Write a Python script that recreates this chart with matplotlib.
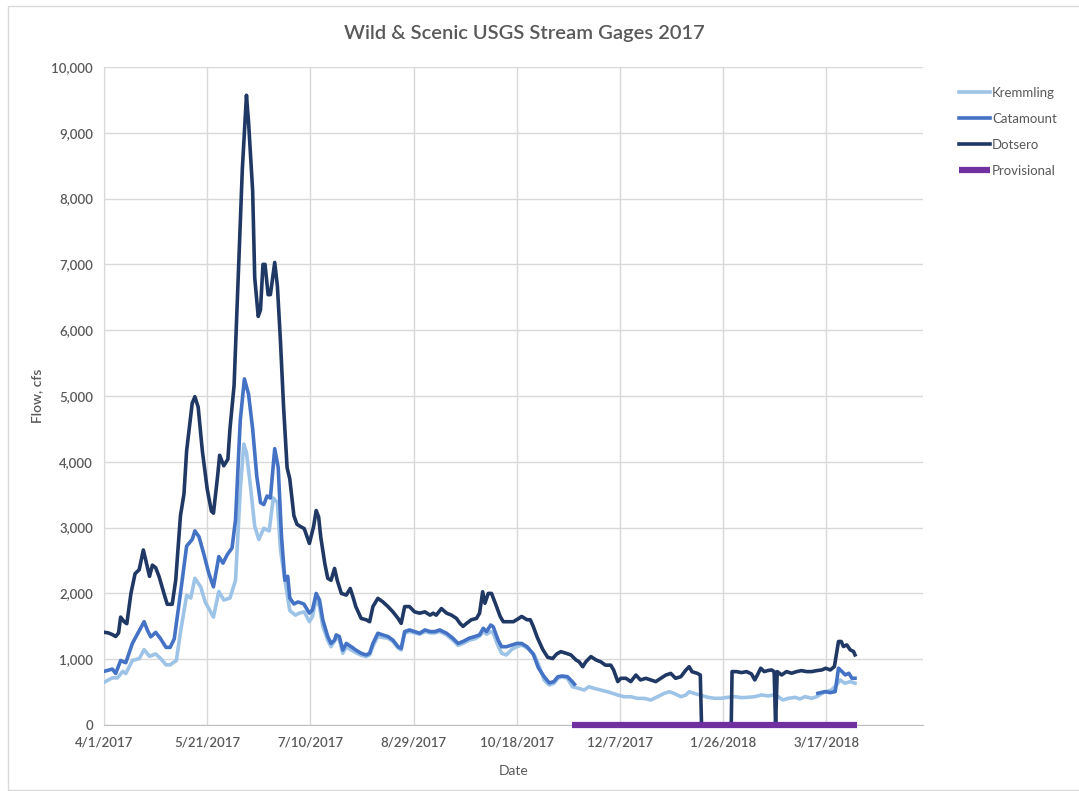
import matplotlib
matplotlib.use("Agg")
import matplotlib.pyplot as plt
import matplotlib.dates as mdates
from matplotlib.patches import Rectangle
from matplotlib.ticker import FuncFormatter, MultipleLocator
import numpy as np
import pandas as pd

plt.rcParams['font.family'] = ['Lato', 'DejaVu Sans']

start = pd.Timestamp("2017-04-01")

# days since 4/1/2017, flow in cfs
kremmling_days = [0, 4, 6.5, 9, 10.5, 13.7, 17, 19.4, 22, 25, 27.4, 30, 32, 35, 37, 40, 42, 44, 46.8, 49,
                  53, 55.6, 58, 61, 63.7, 66, 67.7, 69, 71, 73, 75, 77.4, 80, 82, 84, 85.5, 88, 90, 92.7,
                  94.6, 97, 99.5, 101, 102.8, 104.4, 106, 108.4, 110, 112.5, 114, 115.7, 117.4, 119.8,
                  122, 124.6, 127, 128.7, 130.3, 132.7, 135, 137.6, 140, 142.5, 144, 145.7, 148, 150.5,
                  153, 155.5, 158, 160.3, 162.7, 166, 169, 171.6, 174, 177, 179.7, 182, 183.8, 185.4,
                  187.4, 188.6, 191, 192.7, 195, 197.6, 200, 202.4, 205.3, 208.5, 211, 213.3, 215.8, 218,
                  220, 222, 224.6, 227, 230, 232.7, 235, 237.6, 240.8, 244, 246.5, 249, 252, 255.3, 258.6,
                  261.8, 265, 268.3, 271.5, 274, 276.3, 279.6, 282, 283.6, 286, 289, 292.7, 296, 299,
                  302.4, 305.7, 309, 312, 315.4, 318.7, 322, 324.4, 326.8, 329, 331.7, 335, 337.3, 339.8,
                  343, 345.5, 348, 350, 352.6, 355, 356.8, 359, 361.7, 364]
kremmling_flow = [650, 717, 717, 816, 783, 980, 1010, 1145, 1045, 1080, 1010, 915, 915, 980, 1410, 1970, 1930,
                  2230, 2100, 1870, 1640, 2030, 1900, 1930, 2200, 3580, 4270, 4140, 3610, 3020, 2820, 2990,
                  2950, 3450, 3380, 2660, 2130, 1740, 1670, 1700, 1720, 1570, 1650, 1925, 1800, 1500, 1290,
                  1190, 1320, 1300, 1090, 1190, 1140, 1100, 1060, 1040, 1065, 1200, 1345, 1330, 1320, 1270,
                  1170, 1140, 1395, 1420, 1400, 1380, 1420, 1400, 1400, 1420, 1370, 1290, 1210, 1240, 1290,
                  1310, 1350, 1420, 1380, 1420, 1400, 1200, 1090, 1065, 1150, 1190, 1215, 1165, 1065, 886,
                  684, 608, 633, 710, 735, 710, 582, 557, 532, 582, 557, 532, 506, 481, 456, 430, 430, 405,
                  405, 380, 430, 481, 506, 481, 430, 456, 506, 481, 456, 421, 406, 406, 421, 431, 416, 421,
                  431, 457, 442, 457, 431, 381, 406, 421, 396, 431, 406, 431, 482, 508, 533, 609, 685, 635,
                  660, 635]

catamount_days = [0, 4, 5.6, 8, 10.5, 13.7, 16, 19.4, 21, 22.6, 25, 27.4, 30, 32, 34, 37, 40, 42.7, 44, 46,
                  48.4, 50.8, 53, 55.6, 57.6, 59.7, 62, 63.7, 66, 68, 70, 72, 74, 75.8, 77.4, 79, 80.6, 82.7,
                  84.4, 86, 87.6, 89, 90, 92, 94, 96.8, 99.5, 101, 102.8, 104.4, 106, 108.4, 110, 111.7,
                  112.5, 114, 115.7, 117.4, 119.8, 122, 124.6, 127, 128.7, 130.3, 132.7, 135, 137.6, 140,
                  142.5, 144, 145.7, 148, 150.5, 153, 155.5, 158, 160.3, 162.7, 166, 169, 171.6, 174, 177,
                  179.7, 182, 183.8, 185.4, 187.4, 188.6, 191, 192.7, 195, 197.6, 200, 202.4, 205, 208,
                  210.5, 213.3, 215.8, 218, 220, 222, 224.6, 227, 228,
                  346, 349.5, 352, 354.4, 356, 357.7, 359.3, 361, 362.5, 364]
catamount_flow = [816, 850, 783, 980, 947, 1240, 1375, 1570, 1440, 1340, 1408, 1310, 1180, 1180, 1310, 2000,
                  2720, 2820, 2950, 2860, 2590, 2300, 2100, 2560, 2460, 2590, 2690, 3120, 4630, 5260, 5030,
                  4500, 3780, 3380, 3350, 3480, 3450, 4200, 3910, 2860, 2200, 2260, 1930, 1840, 1870, 1840,
                  1700, 1750, 2000, 1900, 1600, 1345, 1240, 1290, 1370, 1345, 1140, 1240, 1190, 1140, 1090,
                  1065, 1090, 1240, 1395, 1370, 1345, 1290, 1190, 1165, 1420, 1445, 1420, 1395, 1445, 1420,
                  1420, 1445, 1395, 1320, 1240, 1270, 1320, 1345, 1370, 1470, 1420, 1520, 1495, 1290, 1190,
                  1190, 1215, 1240, 1240, 1190, 1080, 870, 735, 640, 660, 735, 745, 735, 658, 620,
                  482, 508, 492, 508, 863, 812, 761, 787, 711, 711]

dotsero_days = [0, 2, 4, 5.6, 7, 8, 9.7, 11, 13, 15, 17, 19, 20, 22, 23.4, 25, 26.6, 29, 30.6, 33, 34.7,
                37, 38.7, 40, 42.7, 44, 45.6, 47.6, 50, 52, 53, 55, 56, 58, 60, 61, 63, 64.5, 67, 69, 70,
                72, 73, 74.7, 75.8, 77, 78, 79.5, 80.6, 82.7, 84, 85.5, 87, 88.7, 90, 92, 93.5, 95, 97,
                99.5, 101.5, 102.8, 104, 105, 107, 108.4, 110, 111.7, 113, 115, 117.4, 119.3, 120.6, 122,
                124.6, 127, 128.7, 130.3, 132.7, 135, 137.6, 140, 142.5, 144, 145.7, 148, 150.5, 153,
                155.5, 158, 159.5, 161, 163.5, 166, 168.4, 170.8, 172.5, 174, 175.7, 178, 180.5, 182,
                183.5, 184.6, 186.2, 187.8, 190, 192, 193.5, 196, 198.4, 201, 202.4, 205, 206.6, 208, 210,
                212.6, 215, 217.4, 219.4, 221.4, 224, 226.3, 228.7, 230.3, 232, 233.5, 236, 238.4, 240.8,
                243, 245.6, 247, 249, 250.5, 253, 255.3, 257.8, 260, 262.6, 265, 267.4, 269.9, 272.3,
                274.7, 277, 279.6, 282, 283.6, 285, 287.6, 289, 289.6, 304, 304.4, 306.5, 309, 311.4,
                313.8, 315.4, 316.7, 318.3, 320, 321.6, 323.5, 324.8, 325.5, 326.3, 328.4, 330.8, 333.3,
                335.7, 338, 340.6, 343, 345.5, 347.9, 349.8, 352, 354, 356, 357.3, 358.4, 360, 361.7,
                363.3, 364]
dotsero_flow = [1410, 1400, 1375, 1345, 1400, 1640, 1570, 1540, 2000, 2300, 2360, 2660, 2530, 2260, 2430,
                2390, 2260, 2000, 1835, 1835, 2200, 3180, 3510, 4170, 4890, 4990, 4830, 4170, 3580, 3250,
                3220, 3780, 4100, 3940, 4040, 4500, 5160, 6410, 8450, 9570, 9170, 8120, 6800, 6210, 6310,
                7000, 7000, 6540, 6540, 7030, 6670, 5820, 4830, 3910, 3740, 3180, 3050, 3020, 2985, 2760,
                3010, 3260, 3160, 2860, 2450, 2230, 2200, 2380, 2200, 2000, 1975, 2075, 1950, 1800, 1620,
                1600, 1570, 1800, 1925, 1875, 1800, 1720, 1620, 1545, 1800, 1800, 1720, 1700, 1720, 1670,
                1700, 1670, 1770, 1700, 1670, 1620, 1545, 1500, 1545, 1600, 1620, 1700, 2025, 1850, 2000,
                2000, 1820, 1650, 1570, 1570, 1570, 1620, 1650, 1600, 1600, 1500, 1330, 1150, 1030, 1010,
                1080, 1115, 1090, 1065, 990, 960, 886, 960, 1040, 990, 960, 910, 910, 835, 660, 710, 710,
                660, 760, 685, 710, 685, 660, 710, 760, 785, 710, 735, 835, 886, 810, 785, 760, 0, 0, 812,
                812, 797, 812, 777, 685, 761, 863, 812, 827, 837, 812, 0, 812, 761, 812, 787, 812, 827,
                812, 812, 827, 837, 863, 837, 888, 1270, 1270, 1193, 1218, 1142, 1117, 1066]

provisional_days = [226.6, 365]
provisional_flow = [0, 0]

tick_days = [0, 50, 100, 150, 200, 250, 300, 350]


def to_dates(days):
    return start + pd.to_timedelta(np.array(days, dtype=float), unit="D")


def with_gap(days, flow, gap_after):
    # break the line where the gage stopped reporting
    d = list(days)
    f = list(flow)
    i = d.index(gap_after) + 1
    d.insert(i, gap_after + 1)
    f.insert(i, np.nan)
    return d, f


cat_d, cat_f = with_gap(catamount_days, catamount_flow, 228)

text_col = "#595959"
fig = plt.figure(figsize=(10.79, 7.91), dpi=100)
ax = fig.add_axes([0.0965, 0.0834, 0.759, 0.8319])

lw = 2.6
ax.plot(to_dates(kremmling_days), kremmling_flow, color="#9DC3E6", lw=lw, label="Kremmling", zorder=3)
ax.plot(to_dates(cat_d), cat_f, color="#4472C4", lw=lw, label="Catamount", zorder=4)
ax.plot(to_dates(dotsero_days), dotsero_flow, color="#1F3864", lw=lw, label="Dotsero", zorder=5)
ax.plot(to_dates(provisional_days), provisional_flow, color="#7030A0", lw=4.5, label="Provisional",
        zorder=6, clip_on=False, solid_capstyle="butt")

ax.set_ylim(0, 10000)
ax.set_xlim(start, start + pd.Timedelta(days=397))
ax.yaxis.set_major_locator(MultipleLocator(1000))
ax.yaxis.set_major_formatter(FuncFormatter(lambda v, p: f"{int(v):,}"))
ax.set_xticks(to_dates(tick_days))
ax.xaxis.set_major_formatter(FuncFormatter(
    lambda v, p: (lambda d: f"{d.month}/{d.day}/{d.year}")(mdates.num2date(v))))

ax.grid(True, color="#D9D9D9", lw=1)
ax.set_axisbelow(True)
for s in ["top", "right"]:
    ax.spines[s].set_visible(False)
ax.spines["left"].set_color("#D9D9D9")
ax.spines["bottom"].set_color("#BFBFBF")
ax.tick_params(length=0, labelsize=9.5, labelcolor=text_col, pad=8)
for lab in ax.get_xticklabels() + ax.get_yticklabels():
    lab.set_fontweight("semibold")

ax.set_xlabel("Date", fontsize=10, color=text_col, labelpad=12)
ax.set_ylabel("Flow, cfs", fontsize=10, color=text_col, fontweight="semibold", labelpad=6)
fig.text(0.486, 0.958, "Wild & Scenic USGS Stream Gages 2017", ha="center", va="center",
         fontsize=14.5, color=text_col, fontweight="semibold")

fig.legend(loc="upper left", bbox_to_anchor=(0.878, 0.905), frameon=False, fontsize=9.5,
           handlelength=2.3, handletextpad=0.2, labelspacing=1.05, labelcolor=text_col)

fig.patches.append(Rectangle((0.0074, 0.0013), 1.2, 0.9905, transform=fig.transFigure,
                             fill=False, edgecolor="#D9D9D9", lw=1))

fig.savefig("out.png", dpi=100)
